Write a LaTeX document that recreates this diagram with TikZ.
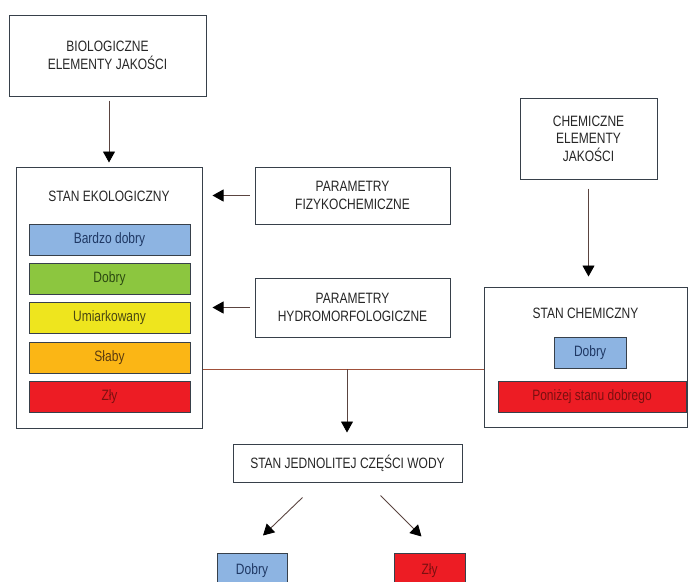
\documentclass[tikz,border=0pt]{standalone}
\usepackage{fontspec}
\setmainfont{Liberation Sans}[FakeStretch=0.8]
\usepackage{xcolor}
\usepackage{tikz}
\usetikzlibrary{shapes,arrows,positioning,calc,arrows.meta}

\definecolor{frame}{HTML}{37404A}
\definecolor{shaft}{HTML}{5A4440}
\definecolor{link}{HTML}{A0503A}
\definecolor{cblue}{HTML}{8DB4E2}
\definecolor{cgreen}{HTML}{8CC63F}
\definecolor{cyellow}{HTML}{EEE51E}
\definecolor{corange}{HTML}{FBB615}
\definecolor{cred}{HTML}{ED1C24}
\definecolor{tblue}{HTML}{1F3864}
\definecolor{tgreen}{HTML}{2C4A12}
\definecolor{tyellow}{HTML}{4A4812}
\definecolor{torange}{HTML}{5A3A10}
\definecolor{tred}{HTML}{7A1010}

\tikzset{
  label/.style={align=center, inner sep=0pt, text=black!85, font=\fontsize{15}{18.5}\selectfont},
  box/.style={label, draw=frame, line width=1pt, fill=white},
  grade/.style={box, minimum height=31pt},
  arr/.style={draw=shaft, line width=0.9pt, -{Triangle[width=12pt,length=11pt,color=black]}},
}

\begin{document}
\begin{tikzpicture}[x=1pt,y=-1pt]
    \useasboundingbox (0,0) rectangle (688,581);
    % Biological elements
    \node[box, minimum width=197pt, minimum height=81pt] (bio) at (107.5,55.5) {BIOLOGICZNE\\ELEMENTY JAKOŚCI};
    % Ecological status with its classes
    \node[box, minimum width=186pt, minimum height=261pt] (eko) at (109,297.5) {};
    \node[label] (ekoT) at (109,196) {STAN EKOLOGICZNY};
    \node[grade, minimum width=161pt, fill=cblue, text=tblue] (vgood) at (109.5,239.5) {Bardzo dobry};
    \node[grade, minimum width=161pt, fill=cgreen, text=tgreen] (good) at (109.5,279) {Dobry};
    \node[grade, minimum width=161pt, fill=cyellow, text=tyellow] (moderate) at (109.5,318) {Umiarkowany};
    \node[grade, minimum width=161pt, fill=corange, text=torange] (poor) at (109.5,357.5) {Słaby};
    \node[grade, minimum width=161pt, fill=cred, text=tred] (bad) at (109.5,396.5) {Zły};
    % Supporting parameters
    \node[box, minimum width=195pt, minimum height=57pt] (fiz) at (352.5,195.5) {PARAMETRY\\FIZYKOCHEMICZNE};
    \node[box, minimum width=195pt, minimum height=59pt] (hyd) at (352.5,307.5) {PARAMETRY\\HYDROMORFOLOGICZNE};
    % Chemical elements and status
    \node[box, minimum width=137pt, minimum height=81pt, font=\fontsize{15}{17.5}\selectfont] (chemEl) at (588.5,138.5) {CHEMICZNE\\ELEMENTY\\JAKOŚCI};
    \node[box, minimum width=203pt, minimum height=140pt] (stChem) at (585.5,357) {};
    \node[label] (stChemT) at (585.5,313) {STAN CHEMICZNY};
    \node[grade, minimum width=72pt, fill=cblue, text=tblue] (chemGood) at (590,352.5) {Dobry};
    \node[grade, minimum width=188pt, fill=cred, text=tred] (chemBad) at (592,396.5) {Poniżej stanu dobrego};
    % Water body status
    \node[box, minimum width=229pt, minimum height=38pt] (jcw) at (347.5,463) {STAN JEDNOLITEJ CZĘŚCI WODY};
    \node[grade, minimum width=70pt, minimum height=36pt, fill=cblue, text=tblue] (endGood) at (252,571) {Dobry};
    \node[grade, minimum width=71pt, minimum height=36pt, fill=cred, text=tred] (endBad) at (429.5,571) {Zły};
    % Arrows
    \draw[arr, shorten <=4pt, shorten >=4pt] (eko.north |- bio.south) -- (eko.north);
    \draw[arr, shorten <=5pt, shorten >=10pt] (fiz.west) -- (fiz.west -| eko.east);
    \draw[arr, shorten <=5pt, shorten >=10pt] (hyd.west) -- (hyd.west -| eko.east);
    \draw[arr, shorten <=9pt, shorten >=10pt] (chemEl.south) -- (chemEl.south |- stChem.north);
    \coordinate (joint) at (347,369);
    \draw[link, line width=0.9pt] (joint -| eko.east) -- (joint -| stChem.west);
    \draw[arr, shorten >=11pt] (joint) -- (joint |- jcw.north);
    \draw[arr] ($(jcw.south)+(-45,15)$) -- ($(endGood.north)+(11,-17)$);
    \draw[arr] ($(jcw.south)+(33,13)$) -- ($(endBad.north)+(-8,-16)$);
\end{tikzpicture}
\end{document}
